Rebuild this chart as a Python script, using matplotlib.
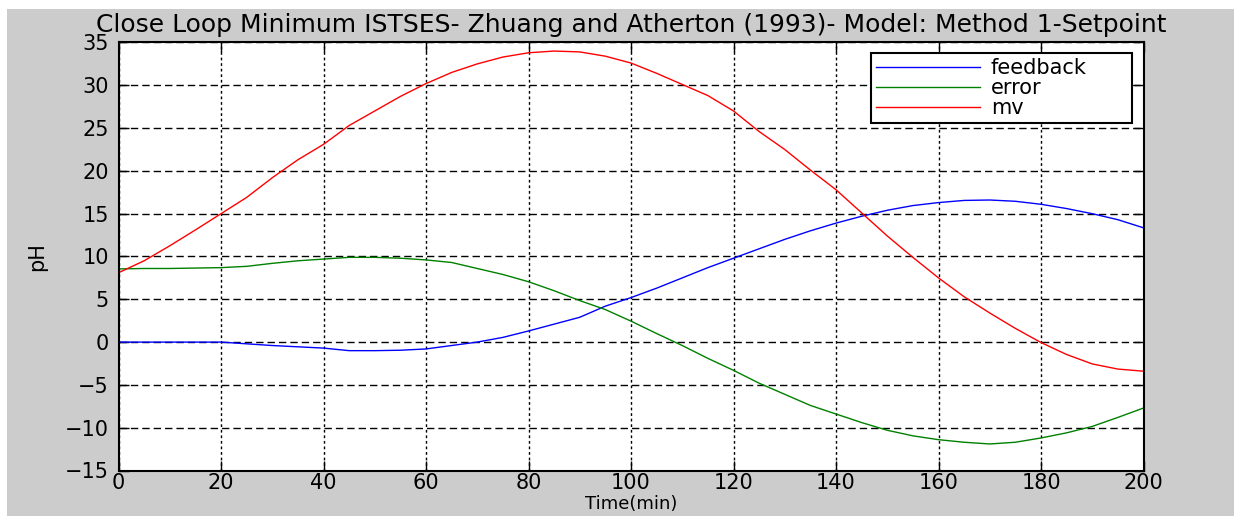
import numpy as np
import matplotlib
matplotlib.use("Agg")
import matplotlib.pyplot as plt
from matplotlib.patches import Rectangle

# time axis (min) and the three traces at 5 min steps
time_min = [0, 5, 10, 15, 20, 25, 30, 35, 40, 45, 50, 55, 60, 65, 70, 75, 80,
            85, 90, 95, 100, 105, 110, 115, 120, 125, 130, 135, 140, 145, 150,
            155, 160, 165, 170, 175, 180, 185, 190, 195, 200]

feedback = [0, 0, 0, 0, 0, -0.2, -0.4, -0.55, -0.7, -1.0, -1.0, -0.95, -0.8,
            -0.4, 0.0, 0.55, 1.3, 2.1, 2.9, 4.2, 5.2, 6.3, 7.5, 8.7, 9.8, 10.9,
            12.0, 13.0, 13.9, 14.7, 15.4, 15.95, 16.3, 16.55, 16.6, 16.45, 16.1,
            15.6, 15.0, 14.3, 13.35]

error = [8.55, 8.6, 8.6, 8.65, 8.7, 8.85, 9.2, 9.5, 9.7, 9.9, 9.9, 9.8, 9.6,
         9.3, 8.6, 7.9, 7.05, 6.0, 4.85, 3.8, 2.45, 1.0, -0.4, -1.9, -3.3, -4.8,
         -6.1, -7.4, -8.4, -9.4, -10.3, -10.95, -11.4, -11.7, -11.9, -11.7,
         -11.2, -10.6, -9.85, -8.8, -7.7]

mv = [8.1, 9.5, 11.25, 13.1, 15.0, 16.9, 19.2, 21.3, 23.1, 25.3, 27.0, 28.7,
      30.2, 31.5, 32.5, 33.3, 33.8, 34.0, 33.9, 33.4, 32.6, 31.4, 30.1, 28.8,
      27.0, 24.6, 22.5, 20.1, 17.8, 15.1, 12.4, 9.9, 7.5, 5.3, 3.4, 1.6, -0.05,
      -1.45, -2.55, -3.15, -3.4]

series_names = ["feedback", "error", "mv"]
xticks = np.arange(0, 201, 20)
yticks = np.arange(-15, 36, 5)

plt.rcParams["font.family"] = "DejaVu Sans"

W, H = 1234, 516
fig = plt.figure(figsize=(W / 100, H / 100), dpi=100, facecolor="white")
# matlab-ish grey figure area, with a thin white strip on top/left
fig.add_artist(Rectangle((7 / W, 0), 1, 1 - 9 / H, transform=fig.transFigure,
                         facecolor="#cccccc", edgecolor="none", zorder=-5))

ax = fig.add_axes([118.5 / W, 1 - 470.5 / H, 1025 / W, 428 / H])

ax.plot(time_min, feedback, color="#0000ff", lw=1.0, label=series_names[0])
ax.plot(time_min, error, color="#008000", lw=1.0, label=series_names[1])
ax.plot(time_min, mv, color="#ff0000", lw=1.0, label=series_names[2])

ax.set_xlim(0, 200)
ax.set_ylim(-15, 35)
ax.set_xticks(xticks)
ax.set_yticks(yticks)

# dotted matlab grid, looks different on x/y because of the squashed screenshot
ax.xaxis.grid(True, color="black", lw=1.0, linestyle=(0, (2, 2)))
ax.yaxis.grid(True, color="black", lw=1.0, linestyle=(0, (5.3, 2.9)))
ax.set_axisbelow(True)

for s in ax.spines.values():
    s.set_linewidth(1.5)
ax.tick_params(direction="in", length=7, width=1, top=True, right=True,
               labelsize=15, colors="black")
ax.tick_params(axis="x", pad=2)
ax.tick_params(axis="y", pad=7)

ax.set_title("Close Loop Minimum ISTSES- Zhuang and Atherton (1993)- Model: Method 1-Setpoint",
             fontsize=18, pad=7.5)
ax.set_xlabel("Time(min)", fontsize=13)
ax.xaxis.set_label_coords(0.5, -0.0572)
ax.set_ylabel("pH", fontsize=15)
ax.yaxis.set_label_coords(-0.07, 0.5)

leg = ax.legend(loc="upper left", bbox_to_anchor=(0.734, 0.5, 0.2546, 0.4755),
                mode="expand", borderaxespad=0, fontsize=15, handlelength=5.0,
                handletextpad=0.5, labelspacing=0.0, fancybox=False,
                framealpha=1, edgecolor="black", borderpad=0.25)
leg.get_frame().set_linewidth(1.5)

plt.savefig("out.png", dpi=100)
